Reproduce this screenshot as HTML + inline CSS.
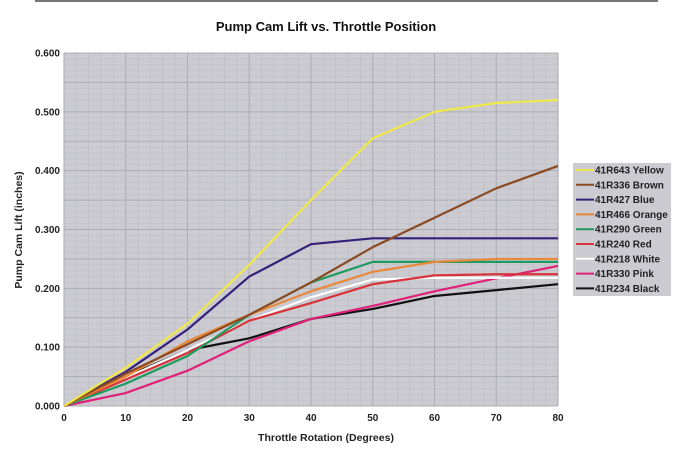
<!DOCTYPE html>
<html><head><meta charset="utf-8"><style>
body{margin:0;background:#fff;width:688px;height:459px;overflow:hidden;font-family:"Liberation Sans",Arial,sans-serif}
</style></head><body>
<svg id="s" width="688" height="459" xmlns="http://www.w3.org/2000/svg" font-family="Liberation Sans, Arial, sans-serif">
<line x1="35" y1="1" x2="658" y2="1" stroke="#777" stroke-width="2"/>
<text x="326" y="31" font-size="13" font-weight="bold" text-anchor="middle" fill="#111">Pump Cam Lift vs. Throttle Position</text>
<rect x="64" y="53" width="494" height="353" fill="#cbcbd1"/>
<g id="grid"></g>
<g id="lines" fill="none" stroke-width="2.2" stroke-linejoin="round"></g>
<g font-size="10" font-weight="bold" fill="#222" id="ticks"></g>
<text x="326" y="441" font-size="10.5" font-weight="bold" text-anchor="middle" fill="#222">Throttle Rotation (Degrees)</text>
<text transform="translate(22,230) rotate(-90)" font-size="10.5" font-weight="bold" text-anchor="middle" fill="#222">Pump Cam Lift (inches)</text>
<rect x="573" y="163" width="98" height="133" fill="#cbcbd1"/>
<g id="leg" font-size="10" font-weight="bold" fill="#222"></g>
</svg>
<script>
var X=function(v){return 64+v*494/80},Y=function(v){return 406-v*353/0.6};
var g='';
for(var i=0;i<=40;i++){var x=X(i*2);g+='<line x1="'+x+'" y1="53" x2="'+x+'" y2="406" stroke="'+(i%5==0?'#adadb5':'#bcbcc4')+'" stroke-width="'+(i%5==0?1.1:0.7)+'"/>';}
for(var j=0;j<=60;j++){var y=Y(j*0.01);g+='<line x1="64" y1="'+y+'" x2="558" y2="'+y+'" stroke="'+(j%5==0?'#adadb5':'#bfbfc7')+'" stroke-width="'+(j%5==0?1:0.6)+'"/>';}
document.getElementById('grid').innerHTML=g;
var D=[["41R643 Yellow","#f0e84a",[0,.065,.14,.24,.35,.455,.5,.515,.52]],
["41R336 Brown","#8b4a22",[0,.055,.105,.155,.21,.27,.32,.37,.408]],
["41R427 Blue","#35207a",[0,.058,.13,.22,.275,.285,.285,.285,.285]],
["41R466 Orange","#e8893a",[0,.05,.11,.155,.195,.228,.245,.25,.25]],
["41R290 Green","#1f9a5e",[0,.038,.085,.155,.21,.245,.245,.245,.245]],
["41R240 Red","#d8333a",[0,.045,.09,.145,.175,.207,.222,.224,.224]],
["41R218 White","#ffffff",[0,.048,.095,.145,.185,.215,.218,.218,.218]],
["41R330 Pink","#e0207a",[0,.022,.06,.11,.148,.17,.195,.217,.238]],
["41R234 Black","#111111",[0,.05,.095,.115,.148,.165,.187,.197,.207]]];
var l='',lg='';
D.slice().reverse().forEach(function(d){var p=d[2].map(function(v,k){return X(k*10)+','+Y(v)}).join(' ');l+='<polyline points="'+p+'" stroke="'+d[1]+'"/>';});
D.forEach(function(d,k){var y=170+k*14.8;lg+='<line x1="576" y1="'+y+'" x2="594" y2="'+y+'" stroke="'+d[1]+'" stroke-width="2"/><text x="595" y="'+(y+3.5)+'">'+d[0]+'</text>';});
document.getElementById('lines').innerHTML=l;document.getElementById('leg').innerHTML=lg;
var t='';
for(var i=0;i<=6;i++)t+='<text x="60" y="'+(Y(i/10)+3.5)+'" text-anchor="end">'+(i/10).toFixed(3)+'</text>';
for(var i=0;i<=8;i++)t+='<text x="'+X(i*10)+'" y="421" text-anchor="middle">'+i*10+'</text>';
document.getElementById('ticks').innerHTML=t;
</script>
</body></html>
